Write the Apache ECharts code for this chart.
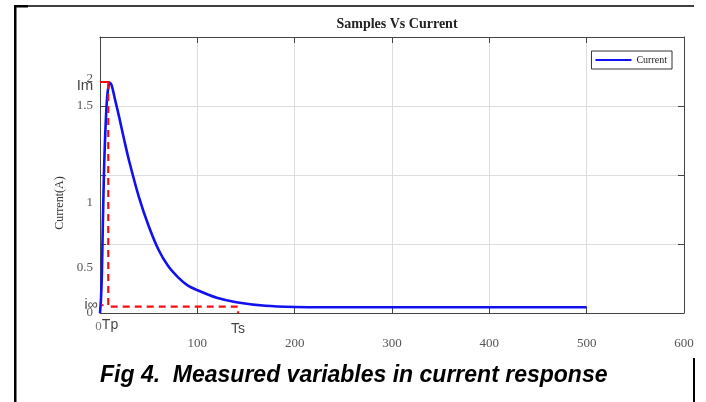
<!DOCTYPE html>
<html>
<head>
<meta charset="utf-8">
<script src="https://cdn.jsdelivr.net/npm/echarts@6/dist/echarts.min.js"></script>
<style>
  html, body { margin: 0; padding: 0; background: #fff; }
  #chart { width: 706px; height: 402px; }
</style>
</head>
<body>
<div id="chart"></div>
<script>
// samples (x) and current (y)
const sampleX = [0, 1, 2, 4, 7, 10, 12, 15, 20, 25, 30, 40, 50, 60, 70, 80, 90, 100, 120, 140, 170, 200, 250, 300, 400, 500];
const currentY = [0, 0.1, 0.3, 1.0, 1.53, 1.67, 1.65, 1.56, 1.41, 1.25, 1.1, 0.84, 0.63, 0.46, 0.34, 0.26, 0.2, 0.165, 0.11, 0.078, 0.052, 0.044, 0.042, 0.042, 0.042, 0.042];

// red marker lines
const imLine = [[0, 1.674], [10, 1.674]];
const tpLine = [[8.5, 1.674], [8.5, 0.056], [1.5, 0.056]];
const infLine = [[11, 0.046], [142, 0.046], [142, 0]];

// y tick labels (as printed on the figure) and where they sit
const yLabelText = ['0', '0.5', '1', '1.5', '2'];
const yLabelPos = [0, 0.326, 0.797, 1.5, 1.696];
const yTicks = [0, 0.5, 1, 1.5, 2];

// annotation texts
const annoText = ['Im', 'i\u221e', 'Tp', 'Ts', '0'];
const annoX = [-15.4, -9.2, 10.3, 141.7, -1.5];
const annoY = [1.645, 0.058, -0.087, -0.116, -0.1];

const chart = echarts.init(document.getElementById('chart'));

const axisColor = '#444';
const serif = 'Liberation Serif';

const option = {
  animation: false,
  title: [
    {
      text: 'Samples Vs Current',
      left: 392,
      textAlign: 'center',
      top: 12,
      textStyle: { fontFamily: serif, fontSize: 14, fontWeight: 'bold', color: '#222' }
    },
    {
      text: '{b|Fig 4.}{n|  Measured variables in current response}',
      left: 95,
      top: 359,
      textStyle: {
        rich: {
          b: { fontFamily: 'Liberation Sans', fontSize: 23, fontStyle: 'italic', fontWeight: 'bold', color: '#000' },
          n: { fontFamily: 'Liberation Sans', fontSize: 23, fontStyle: 'italic', color: '#000' }
        }
      }
    }
  ],
  legend: {
    data: ['Current'],
    right: 34,
    top: 51,
    orient: 'vertical',
    padding: [4, 5, 4, 4],
    borderColor: '#333',
    borderWidth: 1,
    icon: 'rect',
    itemWidth: 36,
    itemHeight: 2,
    itemGap: 4,
    textStyle: { fontFamily: serif, fontSize: 10, color: '#222' }
  },
  grid: { left: 100, right: 22, top: 37, bottom: 89 },
  xAxis: [
    {
      type: 'value',
      min: 0,
      max: 600,
      interval: 100,
      axisLine: { lineStyle: { color: axisColor, width: 1 } },
      axisTick: { inside: true, length: 6, lineStyle: { color: axisColor } },
      axisLabel: {
        margin: 24,
        fontFamily: serif,
        fontSize: 13,
        color: '#555',
        formatter: v => (v === 0 ? '' : String(v))
      },
      splitLine: { show: true, lineStyle: { color: '#dedede' } }
    },
    {
      type: 'value',
      position: 'top',
      min: 0,
      max: 600,
      interval: 100,
      axisLine: { show: true, onZero: false, lineStyle: { color: axisColor } },
      axisTick: { inside: true, length: 6, lineStyle: { color: axisColor } },
      axisLabel: { show: false },
      splitLine: { show: false }
    }
  ],
  yAxis: [
    {
      type: 'value',
      min: 0,
      max: 2,
      interval: 0.5,
      name: 'Current(A)',
      nameLocation: 'middle',
      nameGap: 30,
      nameTextStyle: { fontFamily: serif, fontSize: 12, color: '#333', padding: [0, 56, 0, 0] },
      axisLine: { show: true, lineStyle: { color: axisColor } },
      axisTick: { inside: true, length: 6, customValues: yTicks, lineStyle: { color: axisColor } },
      axisLabel: {
        customValues: yLabelPos,
        margin: 7,
        fontFamily: serif,
        fontSize: 13,
        color: '#555',
        formatter: v => {
          const i = yLabelPos.indexOf(v);
          return i >= 0 ? yLabelText[i] : '';
        }
      },
      splitLine: { show: true, lineStyle: { color: '#dedede' } }
    },
    {
      type: 'value',
      position: 'right',
      min: 0,
      max: 2,
      interval: 0.5,
      axisLine: { show: true, onZero: false, lineStyle: { color: axisColor } },
      axisTick: { inside: true, length: 6, lineStyle: { color: axisColor } },
      axisLabel: { show: false },
      splitLine: { show: false }
    }
  ],
  series: [
    {
      name: 'Current',
      type: 'line',
      data: sampleX.map((x, i) => [x, currentY[i]]),
      smooth: 0.3,
      symbol: 'none',
      lineStyle: { color: '#1010f0', width: 2.6 },
      itemStyle: { color: '#1010f0' },
      z: 3
    },
    {
      name: 'Im',
      type: 'line',
      data: imLine,
      symbol: 'none',
      lineStyle: { color: '#f01010', width: 2 },
      z: 4
    },
    {
      name: 'Tp',
      type: 'line',
      data: tpLine,
      symbol: 'none',
      lineStyle: { color: '#f01010', width: 2.2, type: [7, 5] },
      z: 4
    },
    {
      name: 'Iinf',
      type: 'line',
      data: infLine,
      symbol: 'none',
      lineStyle: { color: '#f01010', width: 2.2, type: [7, 5] },
      z: 4
    },
    {
      name: 'notes',
      type: 'scatter',
      clip: false,
      symbolSize: 1,
      itemStyle: { color: 'rgba(0,0,0,0)' },
      silent: true,
      data: annoText.map((t, i) => ({
        value: [annoX[i], annoY[i]],
        label: {
          show: true,
          position: 'inside',
          formatter: t,
          fontFamily: t === '0' ? serif : 'Liberation Sans',
          fontSize: t === '0' ? 13 : (t === 'Im' ? 15 : 14),
          color: t === '0' ? '#555' : '#111'
        }
      }))
    }
  ],
  graphic: [
    { type: 'rect', shape: { x: 14, y: 5, width: 2.5, height: 397 }, style: { fill: '#000' } },
    { type: 'rect', shape: { x: 14, y: 5, width: 14, height: 2.5 }, style: { fill: '#000' } },
    { type: 'line', shape: { x1: 14, y1: 6, x2: 694, y2: 6 }, style: { stroke: '#000', lineWidth: 1.6 } },
    { type: 'line', shape: { x1: 694, y1: 358, x2: 694, y2: 402 }, style: { stroke: '#000', lineWidth: 2 } }
  ]
};

chart.setOption(option);
</script>
</body>
</html>
